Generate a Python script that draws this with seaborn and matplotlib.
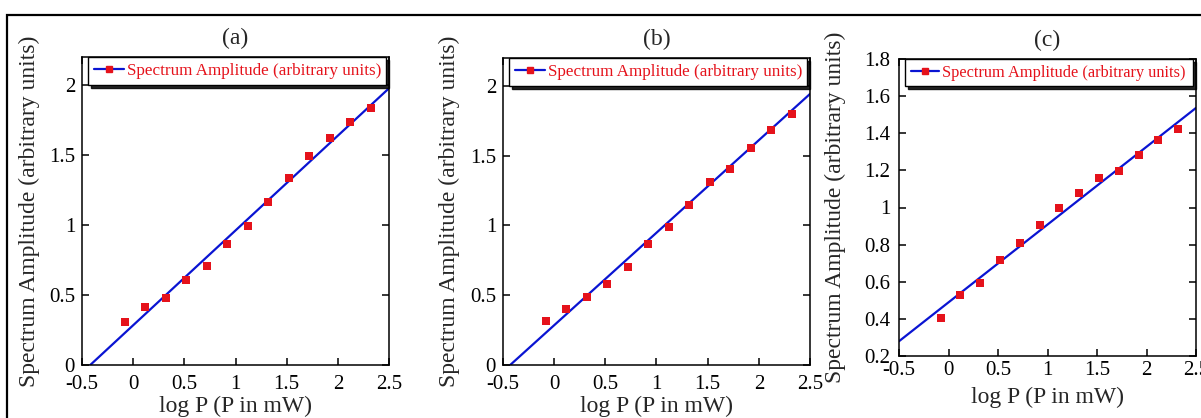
import numpy as np
import pandas as pd
import matplotlib
matplotlib.use("Agg")
import matplotlib.pyplot as plt
import seaborn as sns
from matplotlib.lines import Line2D
from matplotlib.patches import Rectangle

# ---------------- data ----------------
log_p = [-0.08, 0.12, 0.32, 0.52, 0.72, 0.92, 1.12, 1.32, 1.52, 1.72, 1.92, 2.12, 2.32]
amp_a = [0.309, 0.414, 0.476, 0.607, 0.705, 0.862, 0.995, 1.162, 1.336, 1.495, 1.619, 1.734, 1.836]
amp_b = [0.314, 0.400, 0.486, 0.581, 0.705, 0.869, 0.990, 1.143, 1.314, 1.407, 1.552, 1.686, 1.802]
amp_c = [0.404, 0.529, 0.594, 0.718, 0.808, 0.907, 0.999, 1.078, 1.159, 1.196, 1.284, 1.363, 1.423]
fit_slopes = [0.677, 0.663, 0.419]
fit_intercepts = [0.284, 0.285, 0.489]
fit_range = [-0.5, 2.5]
panel_labels = ["(a)", "(b)", "(c)"]
x_ticks = [-0.5, 0, 0.5, 1, 1.5, 2, 2.5]
y_ticks_ab = [0, 0.5, 1, 1.5, 2]
y_ticks_c = [0.2, 0.4, 0.6, 0.8, 1.0, 1.2, 1.4, 1.6, 1.8]
legend_label = "Spectrum Amplitude (arbitrary units)"
x_label = "log P (P in mW)"
y_label = "Spectrum Amplitude (arbitrary units)"

# ---------------- style ----------------
sns.set_theme(style="ticks")
plt.rcParams["font.family"] = ["Liberation Serif", "DejaVu Serif"]
plt.rcParams["axes.linewidth"] = 1.1
plt.rcParams["xtick.direction"] = "in"
plt.rcParams["ytick.direction"] = "in"

W, H = 1201, 418
fig = plt.figure(figsize=(W / 100, H / 100), dpi=100)
fig.patch.set_facecolor("white")

def px_axes(left, right, top, bottom):
    return [left / W, (H - bottom) / H, (right - left) / W, (bottom - top) / H]

boxes = [px_axes(82, 389, 57, 365), px_axes(503, 810, 58, 365), px_axes(899, 1196, 59, 356)]
amps = [amp_a, amp_b, amp_c]
ylims = [(0, 2.2), (0, 2.2), (0.2, 1.8)]
yticks = [y_ticks_ab, y_ticks_ab, y_ticks_c]
xpads = [7.5, 7.5, 3.5]
ypads = [5, 5, 6]
ylabel_x = [-0.137, -0.140, -0.180]
xlabel_y = [-0.100, -0.100, -0.104]
legend_sizes = [12.3, 12.3, 11.8]

blue = "#0a14d2"
red = "#e5121b"

for i in range(3):
    ax = fig.add_axes(boxes[i])
    df = pd.DataFrame({"x": log_p, "y": amps[i]})
    fx = np.array(fit_range)
    fit_df = pd.DataFrame({"x": fx, "y": fit_slopes[i] * fx + fit_intercepts[i]})
    sns.lineplot(data=fit_df, x="x", y="y", ax=ax, color=blue, linewidth=1.6, zorder=2)
    sns.scatterplot(data=df, x="x", y="y", ax=ax, marker="s", s=28, color=red,
                    edgecolor=red, linewidth=0, zorder=3)
    ax.set_xlim(-0.5, 2.5)
    ax.set_ylim(*ylims[i])
    ax.set_xticks(x_ticks)
    ax.set_xticklabels([f"{t:g}" for t in x_ticks])
    ax.set_yticks(yticks[i])
    ax.set_yticklabels([f"{t:g}" for t in yticks[i]])
    ax.tick_params(axis="both", which="both", direction="in", length=5, width=1.1,
                   labelsize=15, top=True, right=True, colors="black")
    ax.tick_params(axis="x", pad=xpads[i])
    ax.tick_params(axis="y", pad=ypads[i])
    for sp in ax.spines.values():
        sp.set_visible(True)
        sp.set_color("black")
        sp.set_linewidth(1.1)
    ax.set_xlabel(x_label, fontsize=17)
    ax.set_ylabel(y_label, fontsize=17)
    ax.yaxis.set_label_coords(ylabel_x[i], 0.5)
    ax.xaxis.set_label_coords(0.5, xlabel_y[i])
    ax.set_title(panel_labels[i], fontsize=17, pad=9)

    handle = Line2D([0], [0], color=blue, linewidth=1.6, marker="s", markersize=5,
                    markerfacecolor=red, markeredgecolor=red)
    leg = ax.legend([handle], [legend_label], loc="upper left",
                    bbox_to_anchor=(0.02, 1.0, 0.97, 0.0), mode="expand",
                    fontsize=legend_sizes[i], frameon=True, fancybox=False,
                    shadow={"color": "black", "alpha": 0.85},
                    borderaxespad=0.0, handlelength=1.75, handletextpad=0.15,
                    borderpad=0.35, labelcolor=red)
    leg.get_frame().set_edgecolor("black")
    leg.get_frame().set_linewidth(1.0)
    leg.get_frame().set_alpha(1.0)

# outer frame of the figure
fig.patches.append(Rectangle((7 / W, -0.1), 1.2, (H - 15) / H + 0.1,
                             transform=fig.transFigure, fill=False,
                             edgecolor="black", linewidth=1.6, clip_on=False))

fig.savefig("out.png", dpi=100)
